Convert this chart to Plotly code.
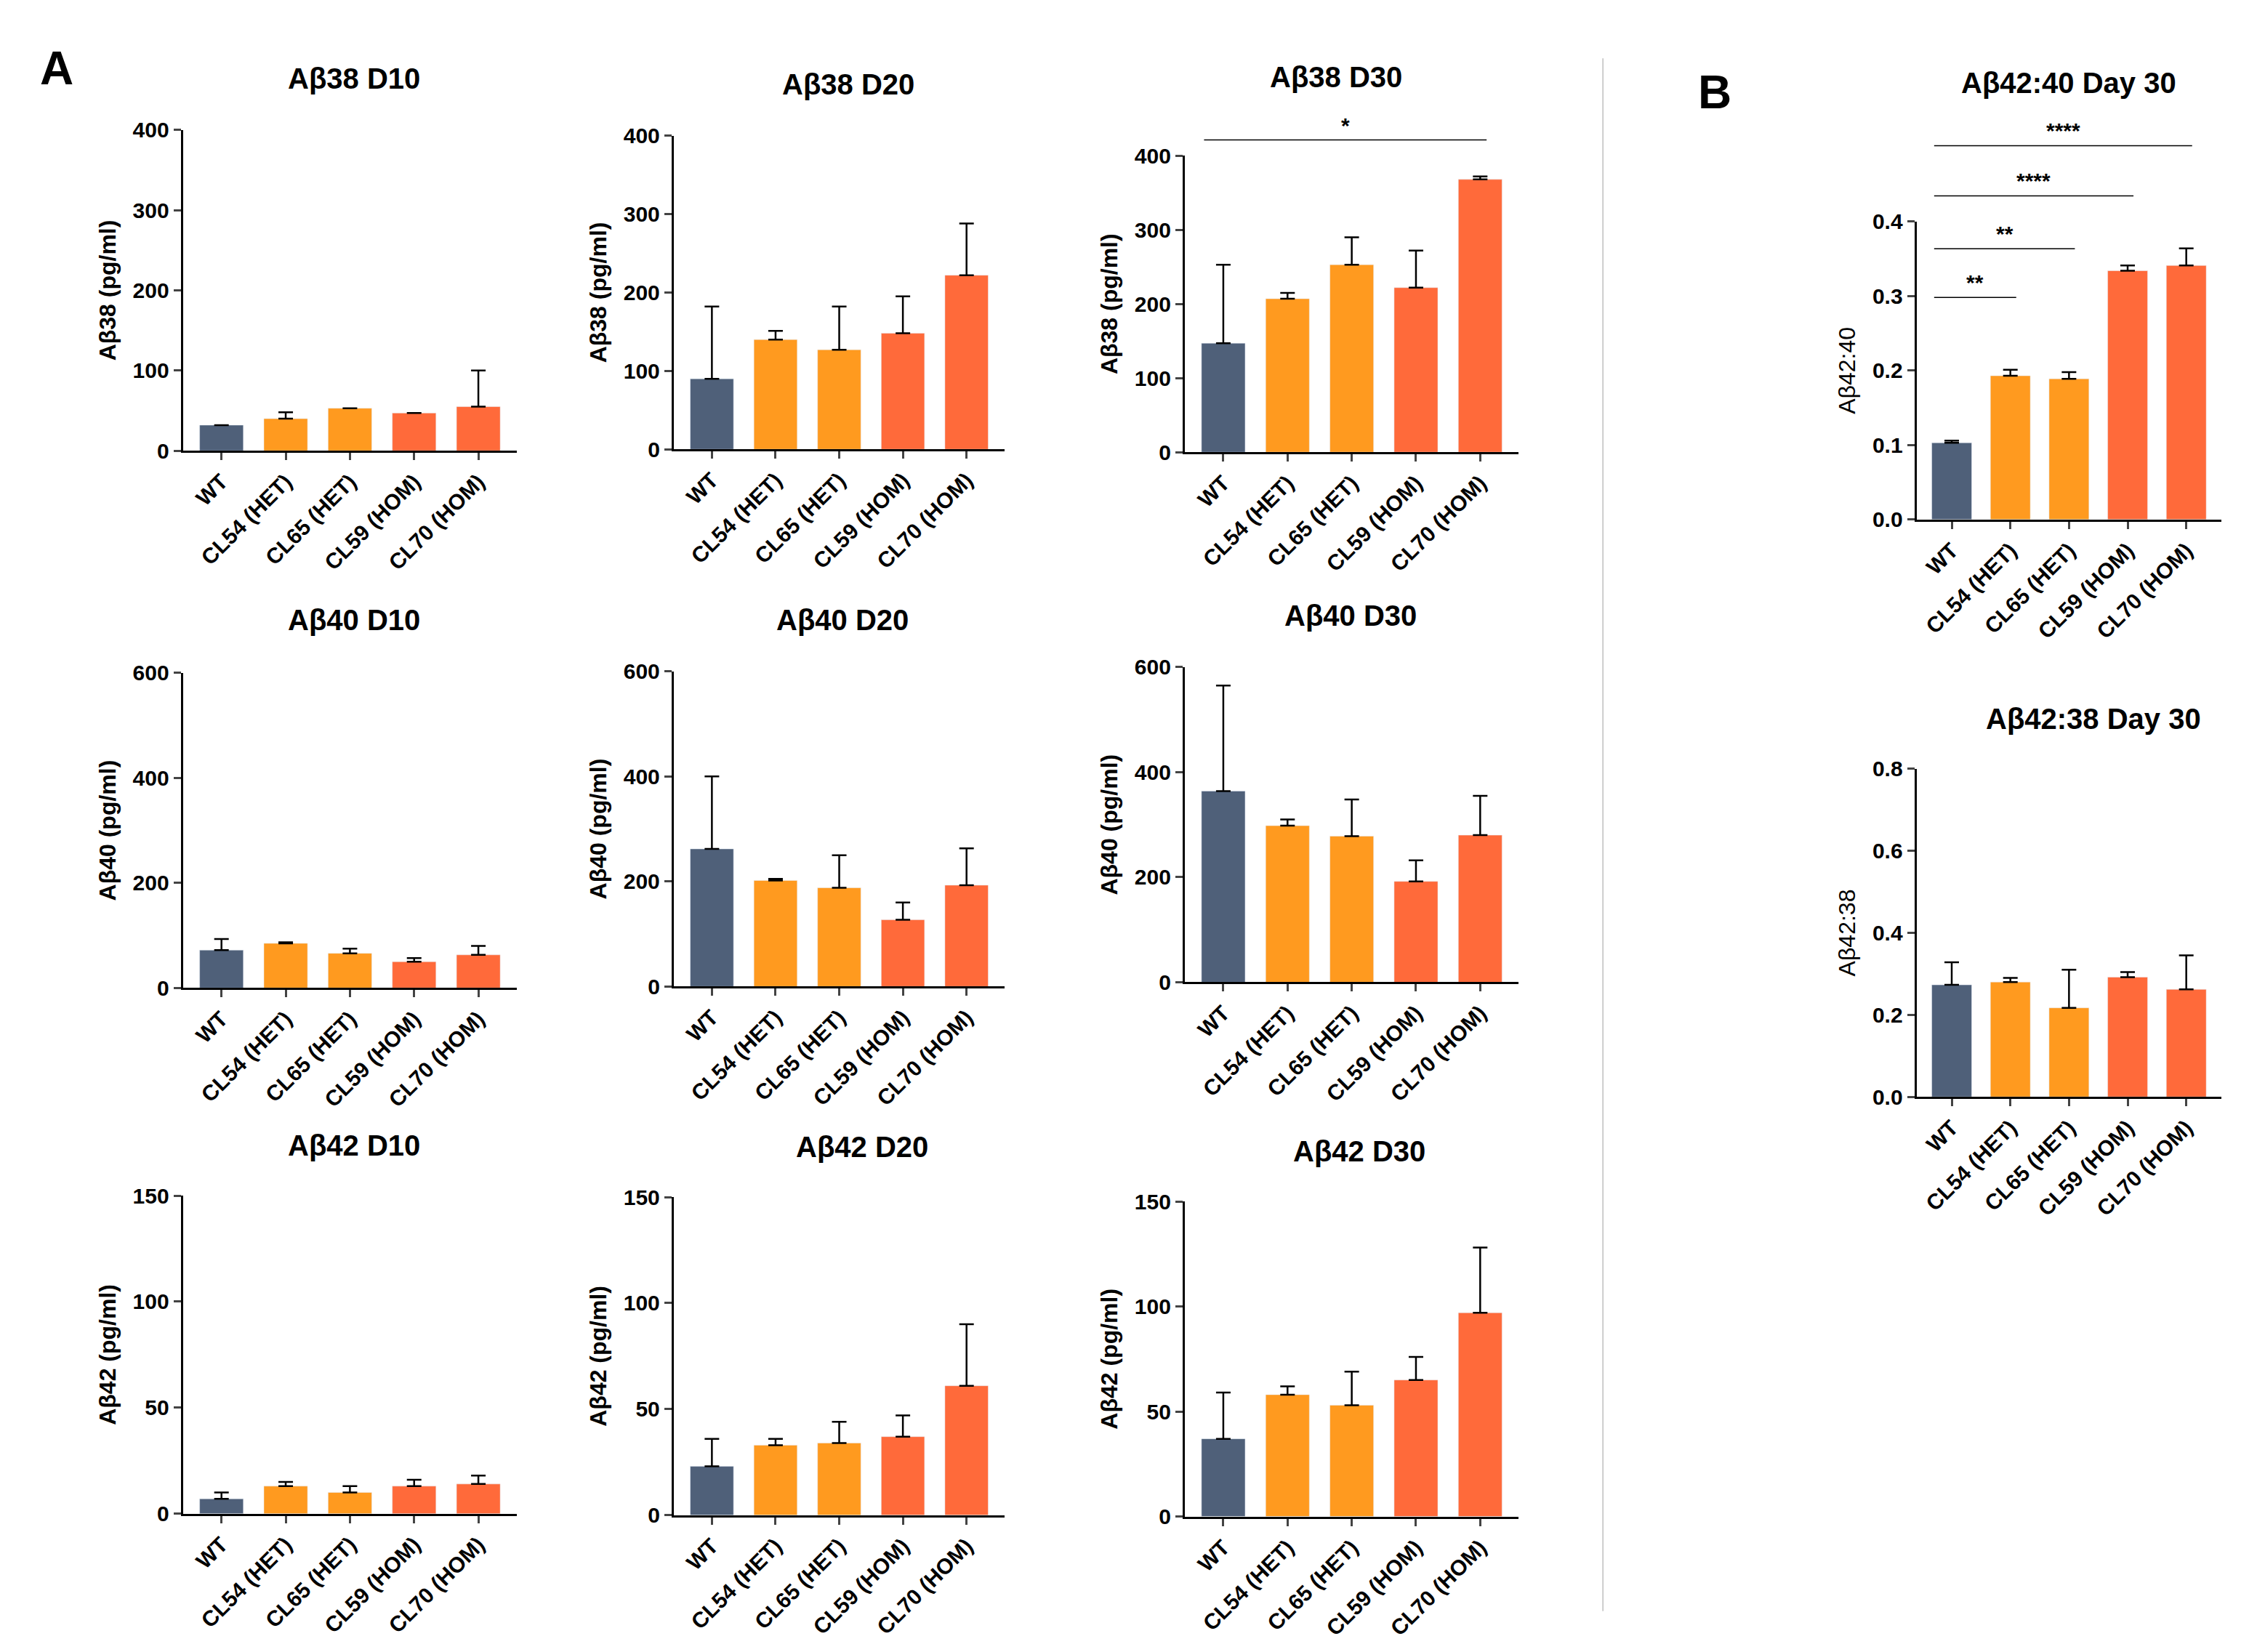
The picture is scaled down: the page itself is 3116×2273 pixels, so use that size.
import plotly.graph_objects as go

W, H = 3116, 2273

groups = ["WT", "CL54 (HET)", "CL65 (HET)", "CL59 (HOM)", "CL70 (HOM)"]
group_labels = ["<b>" + g + "</b>" for g in groups]
colors = ["#4f6079", "#ff9a1f", "#ff9a1f", "#ff6a3a", "#ff6a3a"]

ab38_d10 = [32, 40, 53, 47, 55]
ab38_d10_err = [0, 8, 0, 0, 45]
ab38_d20 = [90, 140, 127, 148, 222]
ab38_d20_err = [92, 11, 55, 47, 66]
ab38_d30 = [147, 207, 253, 222, 368]
ab38_d30_err = [106, 8, 37, 50, 4]
ab40_d10 = [72, 85, 66, 50, 63]
ab40_d10_err = [21, 2, 9, 7, 17]
ab40_d20 = [262, 202, 188, 127, 193]
ab40_d20_err = [138, 3, 62, 33, 70]
ab40_d30 = [364, 298, 278, 192, 280]
ab40_d30_err = [201, 12, 70, 40, 75]
ab42_d10 = [7, 13, 10, 13, 14]
ab42_d10_err = [3, 2, 3, 3, 4]
ab42_d20 = [23, 33, 34, 37, 61]
ab42_d20_err = [13, 3, 10, 10, 29]
ab42_d30 = [37, 58, 53, 65, 97]
ab42_d30_err = [22, 4, 16, 11, 31]
r4240 = [0.103, 0.193, 0.189, 0.334, 0.341]
r4240_err = [0.003, 0.008, 0.009, 0.007, 0.023]
r4238 = [0.273, 0.280, 0.217, 0.292, 0.262]
r4238_err = [0.055, 0.010, 0.093, 0.012, 0.083]

# (title, ytitle, values, errors, ymax, dtick, box px at half scale x0,x1,ytop,ybottom)
panels = [
    ("Aβ38 D10", "Aβ38 (pg/ml)", ab38_d10, ab38_d10_err, 400, 100, (122, 352, 78, 302)),
    ("Aβ38 D20", "Aβ38 (pg/ml)", ab38_d20, ab38_d20_err, 400, 100, (460, 688, 82, 301)),
    ("Aβ38 D30", "Aβ38 (pg/ml)", ab38_d30, ab38_d30_err, 400, 100, (812, 1042, 96, 303)),
    ("Aβ40 D10", "Aβ40 (pg/ml)", ab40_d10, ab40_d10_err, 600, 200, (122, 352, 457, 677)),
    ("Aβ40 D20", "Aβ40 (pg/ml)", ab40_d20, ab40_d20_err, 600, 200, (460, 688, 456, 676)),
    ("Aβ40 D30", "Aβ40 (pg/ml)", ab40_d30, ab40_d30_err, 600, 200, (812, 1042, 453, 673)),
    ("Aβ42 D10", "Aβ42 (pg/ml)", ab42_d10, ab42_d10_err, 150, 50, (122, 352, 822, 1044)),
    ("Aβ42 D20", "Aβ42 (pg/ml)", ab42_d20, ab42_d20_err, 150, 50, (460, 688, 823, 1045)),
    ("Aβ42 D30", "Aβ42 (pg/ml)", ab42_d30, ab42_d30_err, 150, 50, (812, 1042, 826, 1046)),
    ("Aβ42:40 Day 30", "Aβ42:40", r4240, r4240_err, 0.4, 0.1, (1316, 1526, 142, 350)),
    ("Aβ42:38 Day 30", "Aβ42:38", r4238, r4238_err, 0.8, 0.2, (1316, 1526, 524, 753)),
]

title_y = [42, 46, 41, 420, 420, 417, 787, 788, 791, 45, 489]
title_x = [240, 580, 916, 240, 576, 926, 240, 590, 932, 1421, 1438]

fig = go.Figure()
layout = {}
annotations = []
shapes = []


def px(x):
    return x / 1560


def py(y):
    return 1 - y / 1136


for i, (title, ytitle, vals, errs, ymax, dtick, box) in enumerate(panels):
    n = i + 1
    sx = "" if n == 1 else str(n)
    x0, x1, yt, yb = box
    fig.add_trace(go.Bar(
        x=groups, y=vals, marker_color=colors, width=0.68,
        error_y=dict(type="data", array=errs, arrayminus=[0] * 5, symmetric=False,
                     color="black", thickness=2.5, width=10),
        xaxis="x" + sx, yaxis="y" + sx, showlegend=False,
    ))
    layout["xaxis" + sx] = dict(
        domain=[px(x0), px(x1)], anchor="y" + sx, tickangle=-45,
        showline=True, linecolor="black", linewidth=3, ticks="outside",
        ticklen=10, tickwidth=3, tickfont=dict(size=30, color="black"),
        range=[-0.6, 4.6], tickmode="array", tickvals=groups, ticktext=group_labels,
    )
    layout["yaxis" + sx] = dict(
        domain=[py(yb), py(yt)], anchor="x" + sx, range=[0, ymax], dtick=dtick,
        showline=True, linecolor="black", linewidth=3, ticks="outside",
        ticklen=10, tickwidth=3, showgrid=False, zeroline=False,
        tickfont=dict(size=30, color="black"), tickprefix="<b>", ticksuffix="</b>",
        title=dict(text="<b>" + ytitle + "</b>" if "pg" in ytitle else ytitle,
                   font=dict(size=32, color="black"), standoff=14),
        tickformat=".1f" if ymax < 1 else "d",
    )
    annotations.append(dict(text="<b>" + title + "</b>", x=px(title_x[i]),
                            y=py(title_y[i]), xref="paper", yref="paper",
                            xanchor="center", yanchor="middle",
                            showarrow=False, font=dict(size=40, color="black")))

# significance brackets
sig = [
    ("x3", "CL70 (HOM)", 85, "*"),
    ("x10", "CL54 (HET)", 195, "**"),
    ("x10", "CL65 (HET)", 161, "**"),
    ("x10", "CL59 (HOM)", 124, "****"),
    ("x10", "CL70 (HOM)", 89, "****"),
]
for xr, end, yy, label in sig:
    shapes.append(dict(type="line", xref=xr, yref="paper", x0=-0.3, x1=groups.index(end) + 0.1,
                       y0=py(yy), y1=py(yy), line=dict(color="black", width=1.5)))
    annotations.append(dict(text="<b>" + label + "</b>", xref=xr, yref="paper",
                            x=(groups.index(end) - 0.2) / 2, y=py(yy - 1), yanchor="bottom",
                            xanchor="center", showarrow=False, font=dict(size=30, color="black")))

shapes.append(dict(type="line", xref="paper", yref="paper", x0=px(1100), x1=px(1100),
                   y0=py(28), y1=py(1112), line=dict(color="#cccccc", width=2)))
annotations.append(dict(text="<b>A</b>", x=px(35), y=py(35), xref="paper", yref="paper",
                        xanchor="center", yanchor="middle",
                        showarrow=False, font=dict(size=64, color="black")))
annotations.append(dict(text="<b>B</b>", x=px(1177), y=py(52), xref="paper", yref="paper",
                        xanchor="center", yanchor="middle",
                        showarrow=False, font=dict(size=64, color="black")))

fig.update_layout(width=W, height=H, margin=dict(l=0, r=0, t=0, b=0),
                  plot_bgcolor="white", paper_bgcolor="white",
                  font=dict(family="Liberation Sans, Arial", color="black"),
                  annotations=annotations, shapes=shapes, bargap=0.3, **layout)
fig.write_html("out.html")
